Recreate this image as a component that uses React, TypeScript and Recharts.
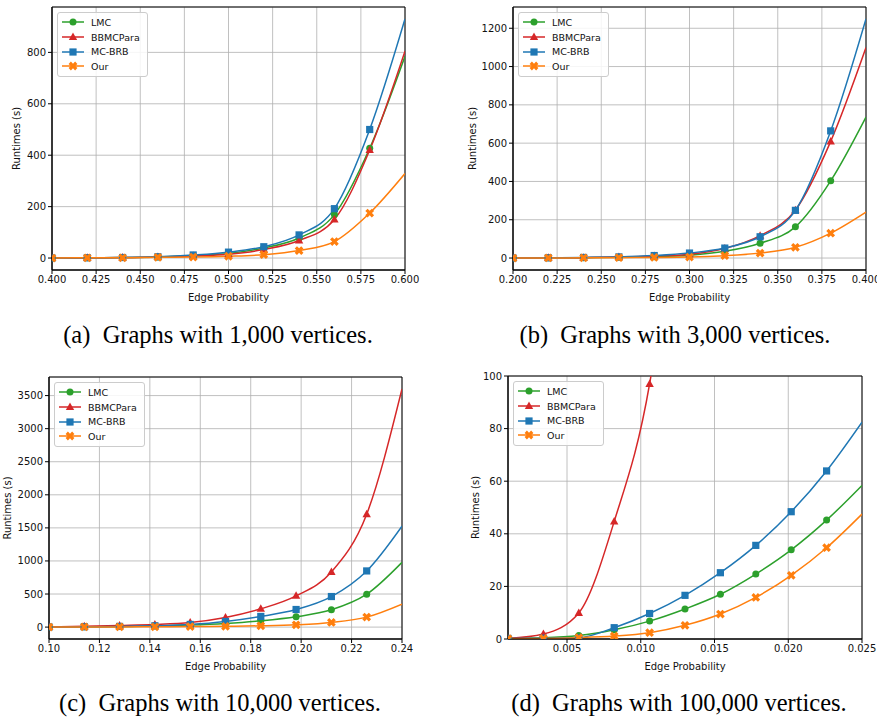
import { CartesianGrid, Legend, Line, LineChart, ReferenceArea, XAxis, YAxis } from "recharts";

// edge probabilities and runtimes (s)
const probA = [0.4, 0.42, 0.44, 0.46, 0.48, 0.5, 0.52, 0.54, 0.56, 0.58, 0.6];
const lmcA = [0, 1, 2, 4, 10, 18, 39, 78, 169, 427, 785];
const bbmcA = [0, 1, 2, 4, 8, 15, 33, 68, 150, 420, 805];
const brbA = [0, 1, 2, 5, 12, 23, 44, 90, 192, 500, 930];
const ourA = [0, 1, 1, 3, 4, 7, 13, 29, 64, 175, 329];

const probB = [0.2, 0.22, 0.24, 0.26, 0.28, 0.3, 0.32, 0.34, 0.36, 0.38, 0.4];
const lmcB = [0, 1, 2, 4, 7, 15, 35, 77, 163, 403, 736];
const bbmcB = [0, 1, 2, 5, 10, 20, 50, 117, 250, 609, 1099];
const brbB = [0, 1, 3, 6, 13, 26, 52, 111, 249, 664, 1249];
const ourB = [0, 0.5, 1, 2, 3, 5, 12, 26, 56, 130, 240];

const probC = [0.1, 0.114, 0.128, 0.142, 0.156, 0.17, 0.184, 0.198, 0.212, 0.226, 0.24];
const lmcC = [2, 4, 8, 15, 30, 55, 95, 156, 261, 497, 979];
const bbmcC = [5, 12, 25, 40, 70, 146, 276, 472, 834, 1707, 3601];
const brbC = [2, 5, 10, 20, 40, 85, 161, 266, 462, 849, 1527];
const ourC = [1, 2, 3, 5, 8, 12, 20, 35, 70, 151, 347];

const probD = [0.001, 0.0034, 0.0058, 0.0082, 0.0106, 0.013, 0.0154, 0.0178, 0.0202, 0.0226, 0.025];
const lmcD = [0.3, 0.5, 1.3, 3.5, 6.8, 11.4, 17, 24.7, 33.9, 45.2, 58.4];
const bbmcD = [0.2, 1.9, 9.9, 44.7, 97, 200, null, null, null, null, null];
const brbD = [0.2, 0.3, 0.5, 4.3, 9.7, 16.6, 25.2, 35.6, 48.4, 63.9, 82.4];
const ourD = [0.1, 0.2, 0.5, 1.1, 2.4, 5.2, 9.5, 15.8, 24.2, 34.7, 47.5];

const xTicksA = [0.4, 0.425, 0.45, 0.475, 0.5, 0.525, 0.55, 0.575, 0.6];
const xTicksB = [0.2, 0.225, 0.25, 0.275, 0.3, 0.325, 0.35, 0.375, 0.4];
const xTicksC = [0.1, 0.12, 0.14, 0.16, 0.18, 0.2, 0.22, 0.24];
const xTicksD = [0.005, 0.01, 0.015, 0.02, 0.025];
const yTicksA = [0, 200, 400, 600, 800];
const yTicksB = [0, 200, 400, 600, 800, 1000, 1200];
const yTicksC = [0, 500, 1000, 1500, 2000, 2500, 3000, 3500];
const yTicksD = [0, 20, 40, 60, 80, 100];

const captions = [
  "(a)  Graphs with 1,000 vertices.",
  "(b)  Graphs with 3,000 vertices.",
  "(c)  Graphs with 10,000 vertices.",
  "(d)  Graphs with 100,000 vertices.",
];

const SERIES = [
  { key: "lmc", name: "LMC", color: "#2ca02c", shape: "circle" },
  { key: "bbmc", name: "BBMCPara", color: "#d62728", shape: "triangle" },
  { key: "brb", name: "MC-BRB", color: "#1f77b4", shape: "square" },
  { key: "our", name: "Our", color: "#ff7f0e", shape: "x" },
];

const FONT = "'DejaVu Sans', sans-serif";

function rows(x: number[], lmc: any[], bbmc: any[], brb: any[], our: any[]) {
  return x.map((p, i) => ({ x: p, lmc: lmc[i], bbmc: bbmc[i], brb: brb[i], our: our[i] }));
}

function Marker({ shape, cx, cy, color }: { shape: string; cx: number; cy: number; color: string }) {
  if (shape === "circle") return <circle cx={cx} cy={cy} r={3.5} fill={color} />;
  if (shape === "triangle")
    return <polygon points={`${cx},${cy - 4.5} ${cx - 4.2},${cy + 3} ${cx + 4.2},${cy + 3}`} fill={color} />;
  if (shape === "square") return <rect x={cx - 3.6} y={cy - 3.6} width={7.2} height={7.2} fill={color} />;
  const L = 4.6;
  const t = 1.6;
  const pts = [
    [t, t], [t, L], [-t, L], [-t, t], [-L, t], [-L, -t],
    [-t, -t], [-t, -L], [t, -L], [t, -t], [L, -t], [L, t],
  ]
    .map(([a, b]) => `${cx + a},${cy + b}`)
    .join(" ");
  return <polygon points={pts} fill={color} transform={`rotate(45 ${cx} ${cy})`} />;
}

function LegendBox() {
  return (
    <div
      style={{
        border: "1px solid #cccccc",
        borderRadius: 3,
        background: "rgba(255,255,255,0.85)",
        padding: "2px 7px 2px 3px",
        fontFamily: FONT,
        fontSize: 9.5,
        color: "#111",
      }}
    >
      {SERIES.map((s) => (
        <div key={s.key} style={{ display: "flex", alignItems: "center", height: 14.7 }}>
          <svg width={24} height={10} style={{ marginRight: 6 }}>
            <line x1={1} y1={5} x2={23} y2={5} stroke={s.color} strokeWidth={1.5} />
            <Marker shape={s.shape} cx={12} cy={5} color={s.color} />
          </svg>
          <span>{s.name}</span>
        </div>
      ))}
    </div>
  );
}

interface PanelProps {
  left: number;
  top: number;
  width: number;
  height: number;
  margin: { top: number; right: number; bottom: number; left: number };
  yWidth: number;
  data: any[];
  xDomain: [number, number];
  xTicks: number[];
  xDigits: number;
  yDomain: [number, number];
  yTicks: number[];
  yLabelX: number;
}

function Panel(p: PanelProps) {
  const tick = { fontSize: 10, fill: "#111", fontFamily: FONT };
  return (
    <div style={{ position: "absolute", left: p.left, top: p.top }}>
      <LineChart width={p.width} height={p.height} data={p.data} margin={p.margin}>
        <CartesianGrid stroke="#b0b0b0" strokeWidth={0.8} />
        <XAxis
          type="number"
          dataKey="x"
          domain={p.xDomain}
          ticks={p.xTicks}
          interval={0}
          allowDataOverflow
          height={36}
          tickFormatter={(v: number) => v.toFixed(p.xDigits)}
          tick={tick}
          tickSize={4}
          tickMargin={2}
          stroke="#000"
          label={{
            value: "Edge Probability",
            position: "insideBottom",
            offset: 5,
            style: { fontSize: 10, fill: "#111", fontFamily: FONT },
          }}
        />
        <YAxis
          type="number"
          domain={p.yDomain}
          ticks={p.yTicks}
          interval={0}
          allowDataOverflow
          width={p.yWidth}
          tick={tick}
          tickSize={4}
          tickMargin={2}
          stroke="#000"
          label={{
            value: "Runtimes (s)",
            angle: -90,
            position: "insideLeft",
            offset: p.yLabelX,
            style: { fontSize: 10, fill: "#111", fontFamily: FONT, textAnchor: "middle" },
          }}
        />
        <ReferenceArea
          x1={p.xDomain[0]}
          x2={p.xDomain[1]}
          y1={p.yDomain[0]}
          y2={p.yDomain[1]}
          fill="none"
          stroke="#000"
          strokeWidth={1}
          ifOverflow="visible"
        />
        {SERIES.map((s) => (
          <Line
            key={s.key}
            type="monotone"
            dataKey={s.key}
            name={s.name}
            stroke={s.color}
            strokeWidth={1.5}
            isAnimationActive={false}
            dot={(d: any) => {
              const last = d.index === p.data.length - 1;
              if (last || d.value == null || d.value > p.yDomain[1] || d.cx == null)
                return <g key={`${s.key}-${d.index}`} />;
              return (
                <Marker key={`${s.key}-${d.index}`} shape={s.shape} cx={d.cx} cy={d.cy} color={s.color} />
              );
            }}
            activeDot={false}
          />
        ))}
        <Legend
          layout="vertical"
          align="center"
          verticalAlign="middle"
          content={() => <LegendBox />}
          wrapperStyle={{ left: p.margin.left + p.yWidth + 5, top: p.margin.top + 5, width: "auto" }}
        />
      </LineChart>
    </div>
  );
}

function Caption({ text, x, y }: { text: string; x: number; y: number }) {
  return (
    <div
      style={{
        position: "absolute",
        left: x - 210,
        top: y - 15,
        width: 420,
        textAlign: "center",
        fontFamily: "'Liberation Serif', serif",
        fontSize: 24.5,
        lineHeight: "30px",
        whiteSpace: "pre",
        color: "#000",
      }}
    >
      {text}
    </div>
  );
}

export default function App() {
  return (
    <div style={{ position: "absolute", left: 0, top: 0, width: 877, height: 720, background: "#fff" }}>
      <Panel
        left={0}
        top={0}
        width={420}
        height={306}
        margin={{ top: 7, right: 15, bottom: 0, left: 0 }}
        yWidth={52}
        data={rows(probA, lmcA, bbmcA, brbA, ourA)}
        xDomain={[0.4, 0.6]}
        xTicks={xTicksA}
        xDigits={3}
        yDomain={[-46.5, 976.5]}
        yTicks={yTicksA}
        yLabelX={16}
      />
      <Panel
        left={440}
        top={0}
        width={437}
        height={306}
        margin={{ top: 7, right: 11, bottom: 0, left: 0 }}
        yWidth={73}
        data={rows(probB, lmcB, bbmcB, brbB, ourB)}
        xDomain={[0.2, 0.4]}
        xTicks={xTicksB}
        xDigits={3}
        yDomain={[-62.5, 1311]}
        yTicks={yTicksB}
        yLabelX={32}
      />
      <Panel
        left={0}
        top={365}
        width={420}
        height={310}
        margin={{ top: 12, right: 18, bottom: 0, left: 0 }}
        yWidth={49}
        data={rows(probC, lmcC, bbmcC, brbC, ourC)}
        xDomain={[0.1, 0.24]}
        xTicks={xTicksC}
        xDigits={2}
        yDomain={[-180, 3781]}
        yTicks={yTicksC}
        yLabelX={7}
      />
      <Panel
        left={440}
        top={365}
        width={437}
        height={310}
        margin={{ top: 11, right: 15, bottom: 0, left: 0 }}
        yWidth={68}
        data={rows(probD, lmcD, bbmcD, brbD, ourD)}
        xDomain={[0.001, 0.025]}
        xTicks={xTicksD}
        xDigits={3}
        yDomain={[0, 100]}
        yTicks={yTicksD}
        yLabelX={35}
      />
      <Caption text={captions[0]} x={218} y={335} />
      <Caption text={captions[1]} x={675} y={335} />
      <Caption text={captions[2]} x={220} y={703} />
      <Caption text={captions[3]} x={679} y={703} />
    </div>
  );
}
